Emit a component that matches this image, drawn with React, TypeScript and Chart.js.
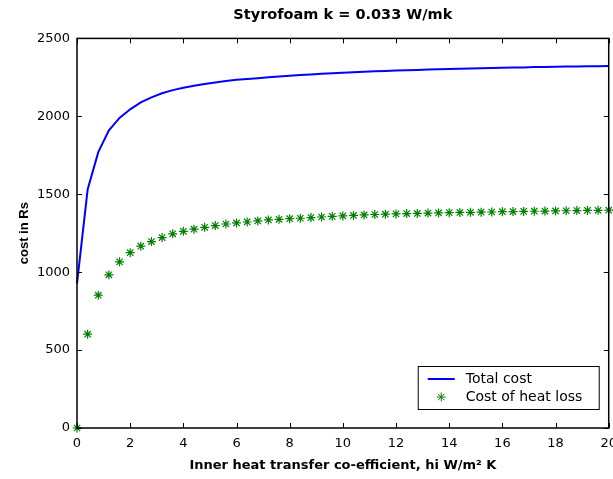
import React, { useEffect, useRef } from "react";
import { Chart, registerables } from "chart.js";

Chart.register(...registerables);

const chartTitle = "Styrofoam k = 0.033 W/mk";
const xAxisTitle = "Inner heat transfer co-efficient, hi W/m\u00B2 K";
const yAxisTitle = "cost in Rs";
const seriesNames = ["Total cost", "Cost of heat loss"];

const hiValues = [
  0, 0.4, 0.8, 1.2, 1.6, 2.0, 2.4, 2.8, 3.2, 3.6, 4.0, 4.4, 4.8, 5.2, 5.6, 6.0, 6.4,
  6.8, 7.2, 7.6, 8.0, 8.4, 8.8, 9.2, 9.6, 10.0, 10.4, 10.8, 11.2, 11.6, 12.0, 12.4,
  12.8, 13.2, 13.6, 14.0, 14.4, 14.8, 15.2, 15.6, 16.0, 16.4, 16.8, 17.2, 17.6, 18.0,
  18.4, 18.8, 19.2, 19.6, 20.0,
];

const totalCost = [
  927, 1530, 1770, 1910, 1990, 2045, 2090, 2122, 2148, 2168, 2183, 2196, 2207, 2217,
  2226, 2234, 2240, 2245, 2251, 2256, 2260, 2265, 2269, 2273, 2276, 2280, 2283, 2286,
  2289, 2291, 2294, 2296, 2298, 2300, 2302, 2304, 2306, 2307, 2309, 2310, 2312, 2313,
  2314, 2316, 2317, 2318, 2319, 2320, 2321, 2322, 2323,
];

const heatLossCost = [
  0, 602, 852, 983, 1066, 1125, 1167, 1196, 1222, 1246, 1262, 1276, 1288, 1299, 1309,
  1316, 1322, 1329, 1335, 1339, 1343, 1346, 1350, 1354, 1358, 1361, 1364, 1367, 1370,
  1372, 1374, 1376, 1377, 1379, 1380, 1382, 1383, 1384, 1385, 1386, 1388, 1389, 1390,
  1391, 1392, 1393, 1394, 1395, 1396, 1397, 1398,
];

const xTicks = [0, 2, 4, 6, 8, 10, 12, 14, 16, 18, 20];
const yTicks = [0, 500, 1000, 1500, 2000, 2500];

const BLUE = "#0000ff";
const GREEN = "#008000";
const TEXT_FONT = "'DejaVu Sans', 'Liberation Sans', Arial, sans-serif";

function drawStar(ctx: CanvasRenderingContext2D, cx: number, cy: number, r: number) {
  const d = r * Math.SQRT1_2;
  ctx.beginPath();
  ctx.moveTo(cx - r, cy);
  ctx.lineTo(cx + r, cy);
  ctx.moveTo(cx, cy - r);
  ctx.lineTo(cx, cy + r);
  ctx.moveTo(cx - d, cy - d);
  ctx.lineTo(cx + d, cy + d);
  ctx.moveTo(cx - d, cy + d);
  ctx.lineTo(cx + d, cy - d);
  ctx.stroke();
}

const boxPlugin = {
  id: "matlabBox",
  afterDatasetsDraw(chart: any) {
    const { ctx, chartArea } = chart;
    const { left, right, top, bottom } = chartArea;
    const xs = chart.scales.x;
    const ys = chart.scales.y;
    const tl = 5;
    ctx.save();
    ctx.strokeStyle = "#000";
    ctx.lineWidth = 1;
    ctx.beginPath();
    xTicks.forEach((v) => {
      const px = Math.round(xs.getPixelForValue(v)) + 0.5;
      ctx.moveTo(px, bottom);
      ctx.lineTo(px, bottom - tl);
      ctx.moveTo(px, top);
      ctx.lineTo(px, top + tl);
    });
    yTicks.forEach((v) => {
      const py = Math.round(ys.getPixelForValue(v)) + 0.5;
      ctx.moveTo(left, py);
      ctx.lineTo(left + tl, py);
      ctx.moveTo(right, py);
      ctx.lineTo(right - tl, py);
    });
    ctx.stroke();
    ctx.lineWidth = 1.5;
    ctx.strokeRect(left, top, right - left, bottom - top);
    ctx.restore();
  },
  afterDraw(chart: any) {
    const { ctx, chartArea } = chart;
    const { right, bottom } = chartArea;
    const bx = right - 191;
    const by = bottom - 62;
    const bw = 181;
    const bh = 43;
    ctx.save();
    ctx.fillStyle = "#fff";
    ctx.fillRect(bx, by, bw, bh);
    ctx.strokeStyle = "#000";
    ctx.lineWidth = 1;
    ctx.strokeRect(bx + 0.5, by + 0.5, bw, bh);
    const y1 = by + 13;
    const y2 = by + 31;
    ctx.strokeStyle = BLUE;
    ctx.lineWidth = 2;
    ctx.beginPath();
    ctx.moveTo(bx + 10, y1);
    ctx.lineTo(bx + 37, y1);
    ctx.stroke();
    ctx.strokeStyle = GREEN;
    ctx.lineWidth = 1;
    drawStar(ctx, bx + 23.5, y2, 4.5);
    ctx.fillStyle = "#000";
    ctx.font = `14px ${TEXT_FONT}`;
    ctx.textBaseline = "middle";
    ctx.textAlign = "left";
    ctx.fillText(seriesNames[0], bx + 48, y1);
    ctx.fillText(seriesNames[1], bx + 48, y2);
    ctx.restore();
  },
};

export default function App() {
  const canvasRef = useRef<HTMLCanvasElement | null>(null);

  useEffect(() => {
    const canvas = canvasRef.current;
    if (!canvas) return;
    const chart = new Chart(canvas, {
      type: "line",
      data: {
        datasets: [
          {
            label: seriesNames[0],
            data: hiValues.map((h, i) => ({ x: h, y: totalCost[i] })),
            borderColor: BLUE,
            backgroundColor: BLUE,
            borderWidth: 2,
            pointRadius: 0,
            tension: 0,
            clip: false as any,
            order: 1,
          },
          {
            label: seriesNames[1],
            data: hiValues.map((h, i) => ({ x: h, y: heatLossCost[i] })),
            showLine: false,
            borderColor: GREEN,
            backgroundColor: GREEN,
            borderWidth: 1.2,
            pointStyle: "star",
            pointRadius: 4.5,
            pointBorderColor: GREEN,
            clip: false as any,
            order: 0,
          },
        ],
      },
      options: {
        responsive: false,
        animation: false,
        events: [],
        layout: { padding: 0 },
        plugins: {
          legend: { display: false },
          tooltip: { enabled: false },
          title: {
            display: true,
            text: chartTitle,
            fullSize: false,
            color: "#000",
            font: { family: TEXT_FONT, size: 14.5, weight: "bold" },
            padding: { top: 7, bottom: 14 },
          },
        },
        scales: {
          x: {
            type: "linear",
            min: 0,
            max: 20,
            afterBuildTicks: (scale: any) => {
              scale.ticks = xTicks.map((v) => ({ value: v }));
            },
            afterFit: (scale: any) => {
              scale.height = 51;
            },
            grid: { display: false, drawTicks: false },
            border: { display: false },
            ticks: {
              color: "#000",
              padding: 8,
              maxRotation: 0,
              font: { family: TEXT_FONT, size: 13 },
              callback: (v: any) => String(v),
            },
            title: {
              display: true,
              text: xAxisTitle,
              color: "#000",
              font: { family: TEXT_FONT, size: 13, weight: "bold" },
              padding: { top: 0, bottom: 6 },
            },
          },
          y: {
            type: "linear",
            min: 0,
            max: 2500,
            afterBuildTicks: (scale: any) => {
              scale.ticks = yTicks.map((v) => ({ value: v }));
            },
            afterFit: (scale: any) => {
              scale.width = 77;
            },
            grid: { display: false, drawTicks: false },
            border: { display: false },
            ticks: {
              color: "#000",
              padding: 7,
              font: { family: TEXT_FONT, size: 13 },
              callback: (v: any) => String(v),
            },
            title: {
              display: true,
              text: yAxisTitle,
              color: "#000",
              font: { family: "'Liberation Sans', Arial, sans-serif", size: 13, weight: "bold" },
              padding: { top: 17, bottom: 0 },
            },
          },
        },
      },
      plugins: [boxPlugin],
    });
    return () => chart.destroy();
  }, []);

  return (
    <div
      style={{
        position: "absolute",
        left: 0,
        top: 0,
        width: 613,
        height: 479,
        overflow: "hidden",
        background: "#fff",
      }}
    >
      <canvas ref={canvasRef} width={625} height={479} style={{ display: "block" }} />
    </div>
  );
}
